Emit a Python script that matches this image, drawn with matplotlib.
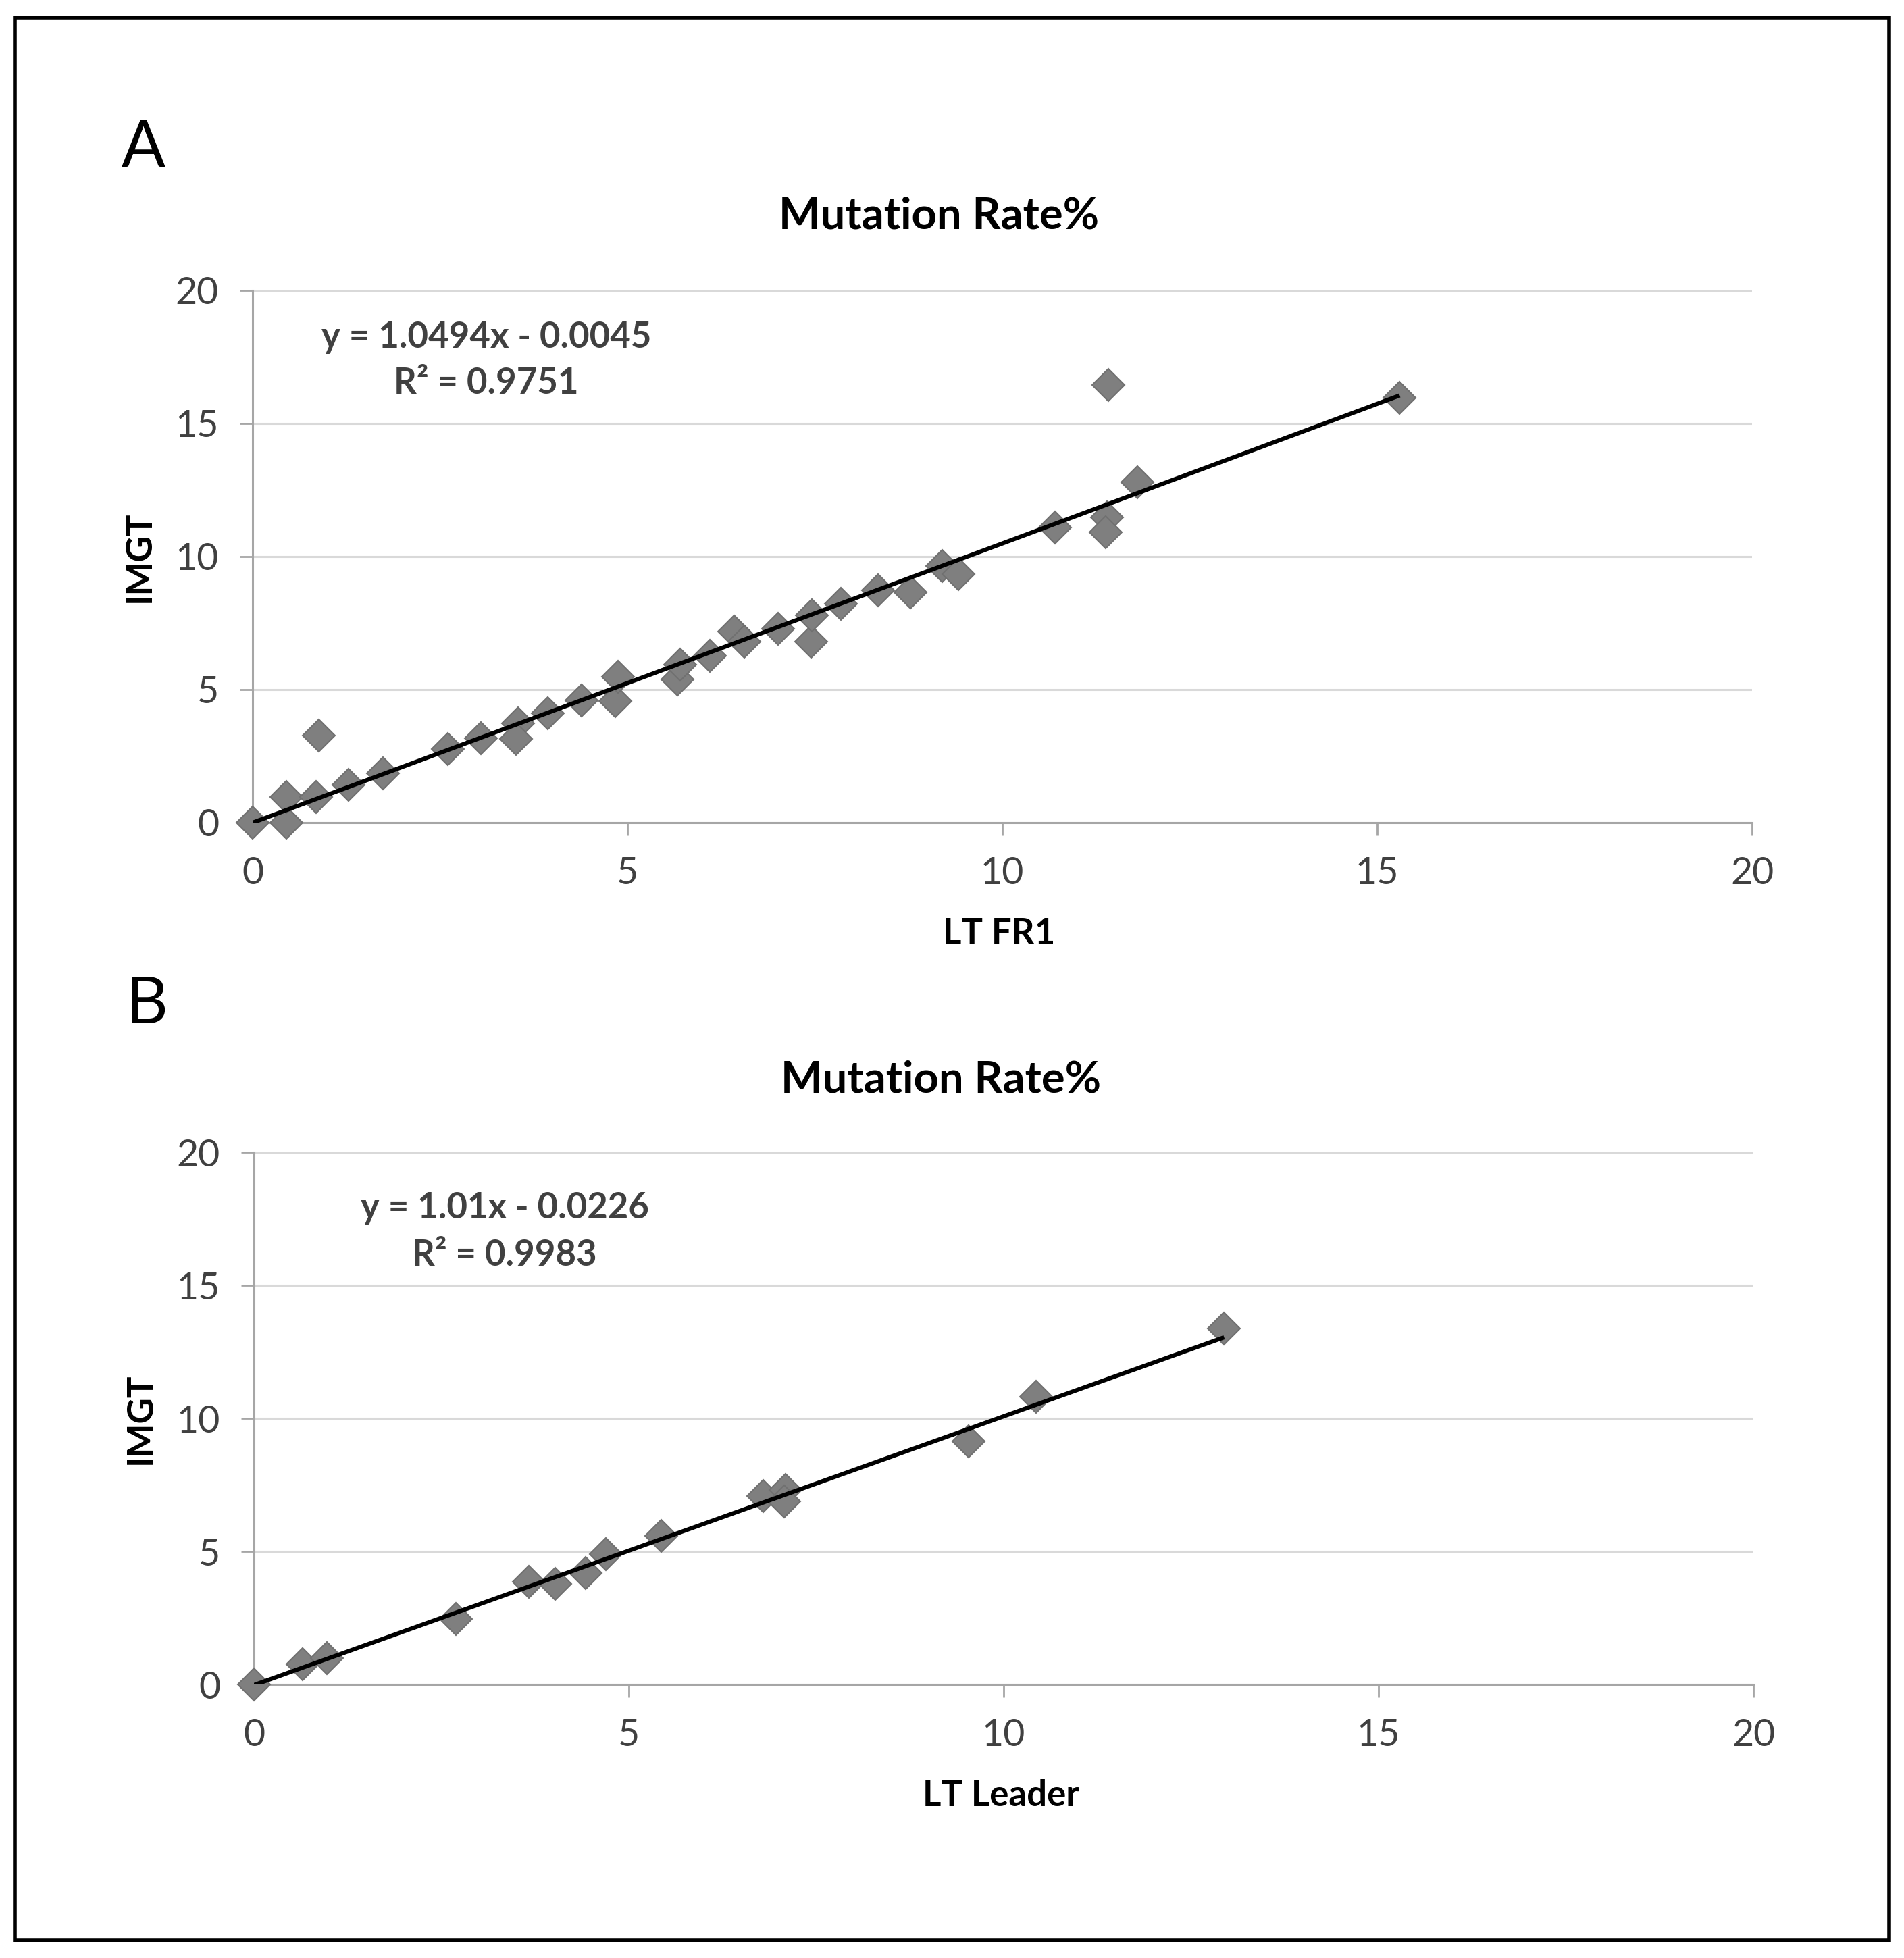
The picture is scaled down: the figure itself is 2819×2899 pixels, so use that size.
import matplotlib
matplotlib.use("Agg")
import matplotlib.pyplot as plt
import numpy as np
from matplotlib.patches import Rectangle

plt.rcParams['font.family'] = ['Lato', 'DejaVu Sans']

# ---------------- data ----------------
a_x = [0, 0.45, 0.45, 0.88, 0.85, 1.28, 1.74, 2.6, 3.04, 3.54, 3.51, 3.94, 4.39,
       4.84, 4.87, 5.67, 5.7, 6.1, 6.42, 6.56, 7.01, 7.45, 7.46, 7.85, 8.34,
       8.77, 9.2, 9.41, 10.7, 11.4, 11.38, 11.41, 11.8, 15.3]
a_y = [0, 0, 0.95, 3.26, 0.96, 1.42, 1.84, 2.76, 3.18, 3.72, 3.14, 4.1, 4.6,
       4.56, 5.48, 5.39, 5.94, 6.27, 7.19, 6.81, 7.27, 6.81, 7.8, 8.23, 8.74,
       8.65, 9.63, 9.33, 11.1, 11.48, 10.9, 16.44, 12.78, 15.96]
a_slope, a_icpt = 1.0494, -0.0045
a_eq = ["y = 1.0494x - 0.0045", "R\u00b2 = 0.9751"]

b_x = [0, 0.65, 0.97, 2.69, 3.67, 4.02, 4.42, 4.69, 5.43, 6.79, 7.09, 7.07,
       9.53, 10.43, 12.94]
b_y = [0, 0.77, 1.0, 2.47, 3.85, 3.78, 4.19, 4.9, 5.58, 7.08, 7.3, 6.89,
       9.14, 10.82, 13.37]
b_slope, b_icpt = 1.01, -0.0226
b_eq = ["y = 1.01x - 0.0226", "R\u00b2 = 0.9983"]

ticks = [0, 5, 10, 15, 20]
title = "Mutation Rate%"
ylabel = "IMGT"
a_xlabel = "LT FR1"
b_xlabel = "LT Leader"

# ---------------- figure ----------------
W, H = 2819, 2899
fig = plt.figure(figsize=(W / 100, H / 100), dpi=100)
fig.patch.set_facecolor('white')

# outer border
fig.patches.append(Rectangle((0.0078, 0.009), 0.9844, 0.982, transform=fig.transFigure,
                             fill=False, edgecolor='black', linewidth=4))

SPINE = '#a6a6a6'
GRID = '#d9d9d9'
MK = '#7f7f7f'


def panel(rect, xs, ys, slope, icpt, eq, eq_x, eq_y, xlabel):
    ax = fig.add_axes(rect)
    ax.set_xlim(0, 20)
    ax.set_ylim(0, 20)
    ax.set_xticks(ticks)
    ax.set_yticks(ticks)
    ax.yaxis.grid(True, color=GRID, linewidth=2.2)
    ax.xaxis.grid(False)
    ax.set_axisbelow(True)
    for s in ['top', 'right']:
        ax.spines[s].set_visible(False)
    for s in ['left', 'bottom']:
        ax.spines[s].set_color(SPINE)
        ax.spines[s].set_linewidth(2.2)
    ax.tick_params(axis='both', direction='out', length=14, width=2, color=SPINE,
                   labelsize=40, labelcolor='#404040', pad=22)
    ax.plot(xs, ys, linestyle='none', marker='D', markersize=24,
            markerfacecolor=MK, markeredgecolor='#707070', markeredgewidth=1.5,
            clip_on=False, zorder=3)
    lx = np.array([min(xs), max(xs)])
    ax.plot(lx, slope * lx + icpt, color='black', linewidth=4.5, zorder=4,
            solid_capstyle='butt')
    ax.set_xlabel(xlabel, fontsize=38, fontweight='bold', color='black')
    ax.xaxis.set_label_coords(0.498, -0.209)
    ax.xaxis.label.set_verticalalignment('center')
    ax.set_ylabel(ylabel, fontsize=38, fontweight='bold', color='black')
    ax.yaxis.set_label_coords(-0.0757, 0.5)
    ax.yaxis.label.set_verticalalignment('center')
    fig.text(eq_x, eq_y[0], eq[0], ha='center', va='baseline', fontsize=38,
             fontweight='bold', color='#404040')
    fig.text(eq_x, eq_y[1], eq[1], ha='center', va='baseline', fontsize=38,
             fontweight='bold', color='#404040')
    return ax


panel([0.1327, 0.5799, 0.7875, 0.2718], a_x, a_y, a_slope, a_icpt, a_eq,
      0.2554, (0.8224, 0.7989), a_xlabel)
panel([0.1334, 0.1397, 0.7875, 0.2718], b_x, b_y, b_slope, b_icpt, b_eq,
      0.265, (0.3777, 0.3536), b_xlabel)

fig.text(0.4931, 0.8834, title, ha='center', va='baseline', fontsize=47,
         fontweight='bold', color='black')
fig.text(0.494, 0.4419, title, ha='center', va='baseline', fontsize=47,
         fontweight='bold', color='black')
fig.text(0.0639, 0.9148, "A", ha='left', va='baseline', fontsize=69, color='black')
fig.text(0.066, 0.4774, "B", ha='left', va='baseline', fontsize=69, color='black')

fig.savefig('out.png', dpi=100, facecolor='white')
